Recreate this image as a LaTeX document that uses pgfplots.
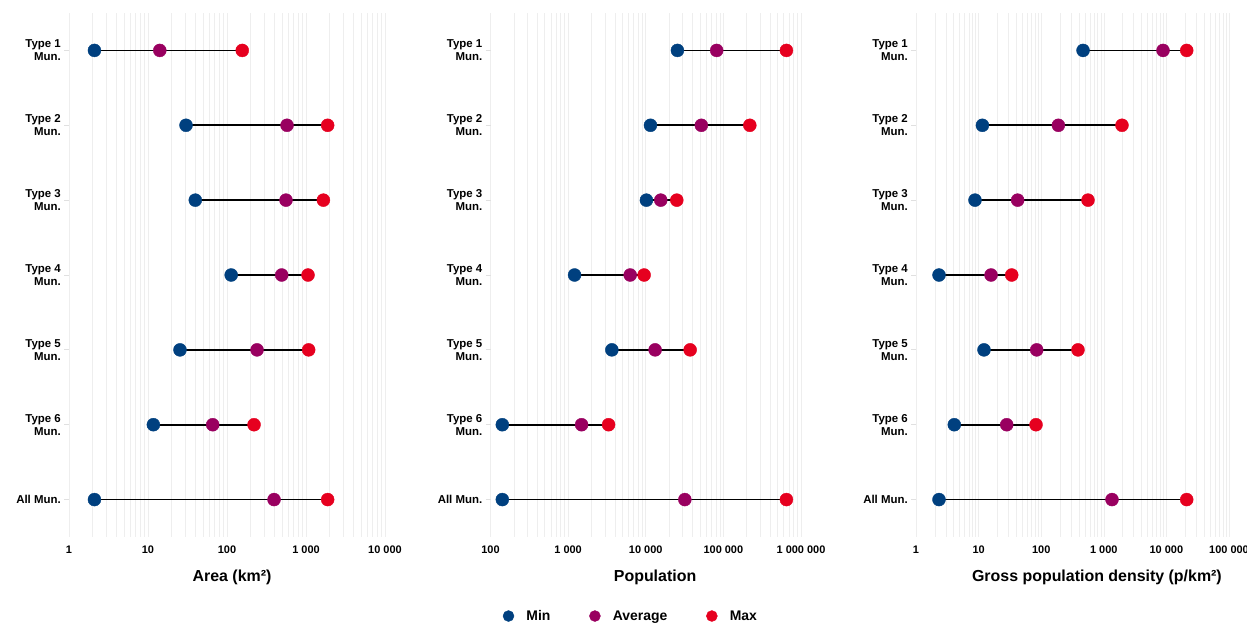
\documentclass[border=0pt]{standalone}
\usepackage{pgfplots}
\pgfplotsset{compat=1.18}
\usepackage{pgfplotstable}
\usepackage{fontspec}
\setmainfont{Liberation Sans}
\definecolor{cmin}{HTML}{00407F}
\definecolor{cavg}{HTML}{990060}
\definecolor{cmax}{HTML}{E6001F}
\definecolor{gridc}{HTML}{EEEEEE}
\definecolor{tickc}{HTML}{E0E0E0}

\pgfplotsset{legend image code/.code={\draw[#1, mark size=5.5bp] plot coordinates {(5bp,0bp)}; \path (0bp,0bp) (22.7bp,0bp);}}

\pgfplotstableread{
row min avg max
1 2.1 14.1 156
2 30.3 575 1880
3 39.7 558 1660
4 113 492 1060
5 25.4 240 1080
6 11.7 65.9 220
7 2.1 394 1880
}\tblarea

\pgfplotstableread{
row min avg max
1 25600 82000 649000
2 11500 52000 219000
3 10200 15600 25100
4 1210 6300 9530
5 3660 13200 37300
6 142 1490 3320
7 142 31900 649000
}\tblpopu

\pgfplotstableread{
row min avg max
1 466 8830 21100
2 11.5 188 1950
3 8.76 42 559
4 2.33 15.8 33.8
5 12.2 84.7 387
6 4.09 28.1 82.6
7 2.33 1352 21100
}\tbldens

\begin{document}
\begin{tikzpicture}
\useasboundingbox (0,0) rectangle (1247bp,624bp);

% Panel 1: Area
\begin{axis}[scale only axis, height=524bp, width=316bp, at={(69bp,87bp)}, anchor=south west,
  xmode=log, xmin=1, xmax=10000,
  ymin=0.5, ymax=7.5, y dir=reverse,
  ytick={1,2,3,4,5,6,7},
  yticklabels={{Type 1\\Mun.},{Type 2\\Mun.},{Type 3\\Mun.},{Type 4\\Mun.},{Type 5\\Mun.},{Type 6\\Mun.},{All Mun.}},
  axis line style={draw=none},
  xmajorgrids, xminorgrids,
  major grid style={draw=gridc, line width=0.6bp},
  minor grid style={draw=gridc, line width=0.6bp},
  xtick style={draw=none}, ytick pos=left,
  ytick style={draw=tickc, line width=0.8bp},
  tick align=outside, major tick length=5bp, minor tick length=0bp,
  yticklabel style={font=\bfseries\fontsize{11.5}{13.3}\selectfont, align=right, inner xsep=0pt, xshift=-3bp},
  xticklabel style={font=\bfseries\fontsize{11}{12}\selectfont, yshift=-0bp},
  clip=false,
  xtick={1,10,100,1000,10000},
  xticklabels={1,10,100,1 000,10 000},
  minor xtick={2,3,4,5,6,7,8,9,20,30,40,50,60,70,80,90,200,300,400,500,600,700,800,900,2000,3000,4000,5000,6000,7000,8000,9000},
  xlabel={Area (km²)},
  xlabel style={font=\bfseries\fontsize{16}{18}\selectfont, anchor=center, at={(axis description cs:0.516,0)}, yshift=-40bp},
]
\addplot[black, line width=1.8bp, mark=none, forget plot] coordinates {(2.1,1) (156,1)};
\addplot[black, line width=1.8bp, mark=none, forget plot] coordinates {(30.3,2) (1880,2)};
\addplot[black, line width=1.8bp, mark=none, forget plot] coordinates {(39.7,3) (1660,3)};
\addplot[black, line width=1.8bp, mark=none, forget plot] coordinates {(113,4) (1060,4)};
\addplot[black, line width=1.8bp, mark=none, forget plot] coordinates {(25.4,5) (1080,5)};
\addplot[black, line width=1.8bp, mark=none, forget plot] coordinates {(11.7,6) (220,6)};
\addplot[black, line width=1.8bp, mark=none, forget plot] coordinates {(2.1,7) (1880,7)};
\addplot[only marks, mark=*, mark size=6.5bp, color=cmin] table[x=min, y=row] {\tblarea};
\addplot[only marks, mark=*, mark size=6.5bp, color=cavg] table[x=avg, y=row] {\tblarea};
\addplot[only marks, mark=*, mark size=6.5bp, color=cmax] table[x=max, y=row] {\tblarea};
\end{axis}

% Panel 2: Population
\begin{axis}[scale only axis, height=524bp, width=310.5bp, at={(490.5bp,87bp)}, anchor=south west,
  xmode=log, xmin=100, xmax=1000000,
  ymin=0.5, ymax=7.5, y dir=reverse,
  ytick={1,2,3,4,5,6,7},
  yticklabels={{Type 1\\Mun.},{Type 2\\Mun.},{Type 3\\Mun.},{Type 4\\Mun.},{Type 5\\Mun.},{Type 6\\Mun.},{All Mun.}},
  axis line style={draw=none},
  xmajorgrids, xminorgrids,
  major grid style={draw=gridc, line width=0.6bp},
  minor grid style={draw=gridc, line width=0.6bp},
  xtick style={draw=none}, ytick pos=left,
  ytick style={draw=tickc, line width=0.8bp},
  tick align=outside, major tick length=5bp, minor tick length=0bp,
  yticklabel style={font=\bfseries\fontsize{11.5}{13.3}\selectfont, align=right, inner xsep=0pt, xshift=-3bp},
  xticklabel style={font=\bfseries\fontsize{11}{12}\selectfont, yshift=-0bp},
  clip=false,
  xtick={100,1000,10000,100000,1000000},
  xticklabels={100,1 000,10 000,100 000,1 000 000},
  minor xtick={200,300,400,500,600,700,800,900,2000,3000,4000,5000,6000,7000,8000,9000,20000,30000,40000,50000,60000,70000,80000,90000,200000,300000,400000,500000,600000,700000,800000,900000},
  xlabel={Population},
  xlabel style={font=\bfseries\fontsize{16}{18}\selectfont, anchor=center, at={(axis description cs:0.530,0)}, yshift=-40bp},
  legend columns=3,
  legend style={draw=none, fill=none, inner sep=0pt, outer sep=0pt,
    at={(axis description cs:0.0403,-0.1508)}, anchor=west,
    font=\bfseries\fontsize{14}{16}\selectfont,
    nodes={inner xsep=0pt},
    /tikz/every even column/.append style={column sep=39bp}},
]
\addplot[black, line width=1.8bp, mark=none, forget plot] coordinates {(25600,1) (649000,1)};
\addplot[black, line width=1.8bp, mark=none, forget plot] coordinates {(11500,2) (219000,2)};
\addplot[black, line width=1.8bp, mark=none, forget plot] coordinates {(10200,3) (25100,3)};
\addplot[black, line width=1.8bp, mark=none, forget plot] coordinates {(1210,4) (9530,4)};
\addplot[black, line width=1.8bp, mark=none, forget plot] coordinates {(3660,5) (37300,5)};
\addplot[black, line width=1.8bp, mark=none, forget plot] coordinates {(142,6) (3320,6)};
\addplot[black, line width=1.8bp, mark=none, forget plot] coordinates {(142,7) (649000,7)};
\addplot[only marks, mark=*, mark size=6.5bp, color=cmin] table[x=min, y=row] {\tblpopu};
\addlegendentry{Min}
\addplot[only marks, mark=*, mark size=6.5bp, color=cavg] table[x=avg, y=row] {\tblpopu};
\addlegendentry{Average}
\addplot[only marks, mark=*, mark size=6.5bp, color=cmax] table[x=max, y=row] {\tblpopu};
\addlegendentry{Max}
\end{axis}

% Panel 3: Density
\begin{axis}[scale only axis, height=524bp, width=313bp, at={(916bp,87bp)}, anchor=south west,
  xmode=log, xmin=1, xmax=100000,
  ymin=0.5, ymax=7.5, y dir=reverse,
  ytick={1,2,3,4,5,6,7},
  yticklabels={{Type 1\\Mun.},{Type 2\\Mun.},{Type 3\\Mun.},{Type 4\\Mun.},{Type 5\\Mun.},{Type 6\\Mun.},{All Mun.}},
  axis line style={draw=none},
  xmajorgrids, xminorgrids,
  major grid style={draw=gridc, line width=0.6bp},
  minor grid style={draw=gridc, line width=0.6bp},
  xtick style={draw=none}, ytick pos=left,
  ytick style={draw=tickc, line width=0.8bp},
  tick align=outside, major tick length=5bp, minor tick length=0bp,
  yticklabel style={font=\bfseries\fontsize{11.5}{13.3}\selectfont, align=right, inner xsep=0pt, xshift=-3bp},
  xticklabel style={font=\bfseries\fontsize{11}{12}\selectfont, yshift=-0bp},
  clip=false,
  xtick={1,10,100,1000,10000,100000},
  xticklabels={1,10,100,1 000,10 000,100 000},
  minor xtick={2,3,4,5,6,7,8,9,20,30,40,50,60,70,80,90,200,300,400,500,600,700,800,900,2000,3000,4000,5000,6000,7000,8000,9000,20000,30000,40000,50000,60000,70000,80000,90000},
  xlabel={Gross population density (p/km²)},
  xlabel style={font=\bfseries\fontsize{16}{18}\selectfont, anchor=center, at={(axis description cs:0.578,0)}, yshift=-40bp},
]
\addplot[black, line width=1.8bp, mark=none, forget plot] coordinates {(466,1) (21100,1)};
\addplot[black, line width=1.8bp, mark=none, forget plot] coordinates {(11.5,2) (1950,2)};
\addplot[black, line width=1.8bp, mark=none, forget plot] coordinates {(8.76,3) (559,3)};
\addplot[black, line width=1.8bp, mark=none, forget plot] coordinates {(2.33,4) (33.8,4)};
\addplot[black, line width=1.8bp, mark=none, forget plot] coordinates {(12.2,5) (387,5)};
\addplot[black, line width=1.8bp, mark=none, forget plot] coordinates {(4.09,6) (82.6,6)};
\addplot[black, line width=1.8bp, mark=none, forget plot] coordinates {(2.33,7) (21100,7)};
\addplot[only marks, mark=*, mark size=6.5bp, color=cmin] table[x=min, y=row] {\tbldens};
\addplot[only marks, mark=*, mark size=6.5bp, color=cavg] table[x=avg, y=row] {\tbldens};
\addplot[only marks, mark=*, mark size=6.5bp, color=cmax] table[x=max, y=row] {\tbldens};
\end{axis}
\end{tikzpicture}
\end{document}
